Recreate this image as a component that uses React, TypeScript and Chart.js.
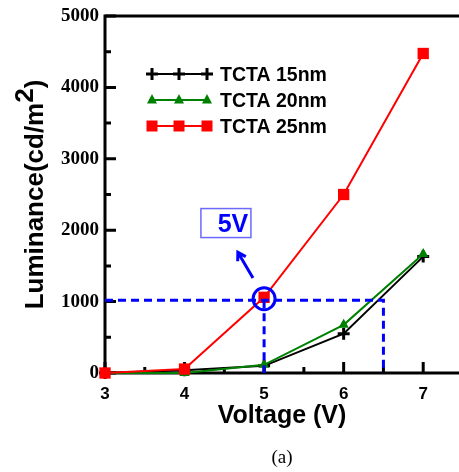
import React, { useEffect, useRef } from 'react';
import { Chart, registerables } from 'chart.js';

Chart.register(...registerables);

// ---- data ----
const VOLTAGES = [3, 4, 5, 6, 7];
const TCTA15 = [0, 40, 100, 550, 1630];
const TCTA20 = [0, 0, 115, 675, 1665];
const TCTA25 = [0, 55, 1060, 2500, 4475];
const SERIES_LABELS = ['TCTA 15nm', 'TCTA 20nm', 'TCTA 25nm'];
const Y_TICKS = [0, 1000, 2000, 3000, 4000, 5000];
const Y_MINOR = [500, 1500, 2500, 3500, 4500];
const X_TICKS = [3, 4, 5, 6, 7];
const X_MINOR = [3.5, 4.5, 5.5, 6.5];
const GUIDE_H = [{ x: 3, y: 1020 }, { x: 6.5, y: 1020 }, { x: 6.5, y: 0 }];
const GUIDE_V = [{ x: 5, y: 1020 }, { x: 5, y: 0 }];
const HIGHLIGHT = [{ x: 5, y: 1040 }];
const ARROW_FROM = { x: 4.86, y: 1330 };
const ARROW_TO = { x: 4.67, y: 1690 };
const CALLOUT = '5V';
const CALLOUT_AT = { x: 4.52, y: 2100 };
const X_TITLE = 'Voltage (V)';
const Y_TITLE = ['Luminance(cd/m', '2', ')'];
const CAPTION = '(a)';

const SANS = "'Liberation Sans', Arial, Helvetica, sans-serif";
const SERIF = "'Liberation Serif', 'Times New Roman', serif";
const BLUE = '#0000ff';
const GREEN = '#008000';
const RED = '#ff0000';

function pts(ys: number[]) {
  return VOLTAGES.map((x, i) => ({ x, y: ys[i] }));
}

function drawMarker(ctx: CanvasRenderingContext2D, kind: string, x: number, y: number, color: string) {
  ctx.save();
  ctx.fillStyle = color;
  ctx.strokeStyle = color;
  if (kind === 'cross') {
    ctx.lineWidth = 3;
    ctx.beginPath();
    ctx.moveTo(x - 6, y); ctx.lineTo(x + 6, y);
    ctx.moveTo(x, y - 6); ctx.lineTo(x, y + 6);
    ctx.stroke();
  } else if (kind === 'triangle') {
    ctx.beginPath();
    ctx.moveTo(x, y - 6);
    ctx.lineTo(x + 5, y + 3.5);
    ctx.lineTo(x - 5, y + 3.5);
    ctx.closePath();
    ctx.fill();
  } else {
    ctx.fillRect(x - 5.5, y - 5.5, 11, 11);
  }
  ctx.restore();
}

const decor = {
  id: 'decor',
  beforeDatasetsDraw(chart: any) {
    const { ctx, chartArea: a, scales } = chart;
    const x = scales.x, y = scales.y;
    ctx.save();
    ctx.strokeStyle = '#000';
    ctx.lineWidth = 3;
    ctx.beginPath();
    ctx.moveTo(a.right, a.top);
    ctx.lineTo(a.left, a.top);
    ctx.lineTo(a.left, a.bottom);
    ctx.lineTo(a.right, a.bottom);
    ctx.stroke();
    ctx.beginPath();
    for (const v of Y_TICKS) {
      const py = y.getPixelForValue(v);
      ctx.moveTo(a.left, py); ctx.lineTo(a.left + 11, py);
    }
    for (const v of Y_MINOR) {
      const py = y.getPixelForValue(v);
      ctx.moveTo(a.left, py); ctx.lineTo(a.left + 6, py);
    }
    for (const v of X_TICKS) {
      const px = x.getPixelForValue(v);
      ctx.moveTo(px, a.bottom); ctx.lineTo(px, a.bottom - 11);
    }
    for (const v of X_MINOR) {
      const px = x.getPixelForValue(v);
      ctx.moveTo(px, a.bottom); ctx.lineTo(px, a.bottom - 6);
    }
    ctx.stroke();
    ctx.restore();
  },
  afterDatasetsDraw(chart: any) {
    const { ctx, chartArea: a, scales } = chart;
    const x = scales.x, y = scales.y;
    ctx.save();
    // arrow
    const fx = x.getPixelForValue(ARROW_FROM.x), fy = y.getPixelForValue(ARROW_FROM.y);
    const tx = x.getPixelForValue(ARROW_TO.x), ty = y.getPixelForValue(ARROW_TO.y);
    ctx.strokeStyle = BLUE;
    ctx.lineWidth = 3;
    ctx.beginPath();
    ctx.moveTo(fx, fy); ctx.lineTo(tx, ty);
    const ang = Math.atan2(ty - fy, tx - fx);
    const hl = 9;
    ctx.moveTo(tx - hl * Math.cos(ang - 0.55), ty - hl * Math.sin(ang - 0.55));
    ctx.lineTo(tx, ty);
    ctx.lineTo(tx - hl * Math.cos(ang + 0.55), ty - hl * Math.sin(ang + 0.55));
    ctx.stroke();
    // callout box
    const cx = x.getPixelForValue(CALLOUT_AT.x), cy = y.getPixelForValue(CALLOUT_AT.y);
    ctx.strokeStyle = '#6a6aff';
    ctx.lineWidth = 1.5;
    ctx.strokeRect(cx - 25, cy - 14.5, 50, 29);
    ctx.fillStyle = BLUE;
    ctx.font = `bold 25px ${SANS}`;
    ctx.textAlign = 'center';
    ctx.textBaseline = 'alphabetic';
    ctx.fillText(CALLOUT, cx + 7, cy + 9);
    // legend
    const ds = chart.data.datasets;
    const rows = [0, 1, 2];
    const kinds = ['cross', 'triangle', 'rect'];
    ctx.font = `bold 19.5px ${SANS}`;
    ctx.textAlign = 'left';
    ctx.textBaseline = 'alphabetic';
    rows.forEach((i) => {
      const ly = a.top + 58 + i * 26;
      const color = ds[i].borderColor;
      ctx.strokeStyle = color;
      ctx.lineWidth = 2;
      ctx.beginPath();
      ctx.moveTo(149, ly); ctx.lineTo(209, ly);
      ctx.stroke();
      for (const mx of [152, 179, 207]) drawMarker(ctx, kinds[i], mx, ly, color);
      ctx.fillStyle = '#000';
      ctx.fillText(ds[i].label, 220, ly + 7);
    });
    ctx.restore();
  },
  afterDraw(chart: any) {
    const { ctx, chartArea: a } = chart;
    ctx.save();
    ctx.fillStyle = '#000';
    // x title
    ctx.font = `bold 25px ${SANS}`;
    ctx.textAlign = 'center';
    ctx.textBaseline = 'alphabetic';
    ctx.fillText(X_TITLE, (a.left + a.right) / 2, 423);
    // y title
    ctx.translate(43, (a.top + a.bottom) / 2);
    ctx.rotate(-Math.PI / 2);
    ctx.font = `bold 26px ${SANS}`;
    ctx.textAlign = 'left';
    const w1 = ctx.measureText(Y_TITLE[0]).width;
    const w2 = ctx.measureText(Y_TITLE[1]).width;
    const w3 = ctx.measureText(Y_TITLE[2]).width;
    const s = -(w1 + w2 + w3) / 2;
    ctx.fillText(Y_TITLE[0], s, 0);
    ctx.fillText(Y_TITLE[1], s + w1, -10);
    ctx.fillText(Y_TITLE[2], s + w1 + w2, 0);
    ctx.restore();
    ctx.save();
    ctx.fillStyle = '#000';
    ctx.font = `19px ${SERIF}`;
    ctx.textAlign = 'center';
    ctx.fillText(CAPTION, (a.left + a.right) / 2, 463);
    ctx.restore();
  },
};

export default function App() {
  const ref = useRef<HTMLCanvasElement>(null);
  useEffect(() => {
    const chart = new Chart(ref.current!, {
      type: 'line',
      data: {
        datasets: [
          {
            label: SERIES_LABELS[0], data: pts(TCTA15), borderColor: '#000', backgroundColor: '#000',
            borderWidth: 2, pointStyle: 'cross', pointRadius: 6, pointBorderWidth: 3, order: 3, clip: false,
          },
          {
            label: SERIES_LABELS[1], data: pts(TCTA20), borderColor: GREEN, backgroundColor: GREEN,
            borderWidth: 2, pointStyle: 'triangle', pointRadius: 6, pointBorderWidth: 0, order: 2, clip: false,
          },
          {
            label: SERIES_LABELS[2], data: pts(TCTA25), borderColor: RED, backgroundColor: RED,
            borderWidth: 2, pointStyle: 'rect', pointRadius: 8, pointBorderWidth: 0, order: 1, clip: false,
          },
          {
            label: 'guideH', data: GUIDE_H, borderColor: BLUE, borderWidth: 3, borderDash: [8, 5],
            pointRadius: 0, order: 0, clip: false,
          },
          {
            label: 'guideV', data: GUIDE_V, borderColor: BLUE, borderWidth: 3, borderDash: [8, 5],
            pointRadius: 0, order: 0, clip: false,
          },
          {
            label: 'highlight', data: HIGHLIGHT, showLine: false, pointStyle: 'circle', pointRadius: 11,
            pointBorderWidth: 3, pointBorderColor: BLUE, pointBackgroundColor: 'rgba(0,0,0,0)', order: 0, clip: false,
          },
        ] as any,
      },
      options: {
        animation: false,
        responsive: false,
        events: [],
        layout: { autoPadding: false, padding: { top: 16, right: 0, bottom: 0, left: 0 } },
        plugins: { legend: { display: false }, tooltip: { enabled: false } },
        scales: {
          x: {
            type: 'linear', min: 3, max: 7.45,
            grid: { display: false, drawTicks: false }, border: { display: false },
            ticks: { color: '#000', padding: 11, font: { family: SANS, weight: 'bold', size: 17 }, callback: (v: any) => String(v) },
            afterBuildTicks: (s: any) => { s.ticks = X_TICKS.map((v) => ({ value: v })); },
            afterFit: (s: any) => { s.height = 99; s.paddingLeft = 0; s.paddingRight = 0; },
          },
          y: {
            type: 'linear', min: 0, max: 5000,
            grid: { display: false, drawTicks: false }, border: { display: false },
            ticks: { color: '#000', padding: 6, font: { family: SERIF, weight: 'bold', size: 19 }, callback: (v: any) => String(v) },
            afterBuildTicks: (s: any) => { s.ticks = Y_TICKS.map((v) => ({ value: v })); },
            afterFit: (s: any) => { s.width = 105; s.paddingTop = 0; s.paddingBottom = 0; },
          },
        },
      } as any,
      plugins: [decor],
    });
    return () => chart.destroy();
  }, []);
  return (
    <div style={{ position: 'absolute', left: 0, top: 0, width: 459, height: 472, background: '#fff' }}>
      <canvas ref={ref} width={459} height={472} style={{ display: 'block' }} />
    </div>
  );
}
